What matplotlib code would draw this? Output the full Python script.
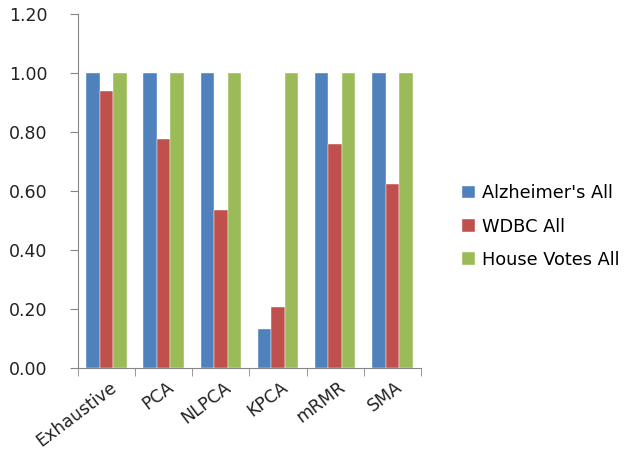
import numpy as np
import matplotlib.pyplot as plt

methods = ["Exhaustive", "PCA", "NLPCA", "KPCA", "mRMR", "SMA"]
alzheimers = [1.00, 1.00, 1.00, 0.134, 1.00, 1.00]
wdbc = [0.938, 0.776, 0.536, 0.209, 0.761, 0.623]
house_votes = [1.00, 1.00, 1.00, 1.00, 1.00, 1.00]

series = [("Alzheimer's All", alzheimers, "#4F81BD"),
          ("WDBC All", wdbc, "#C0504D"),
          ("House Votes All", house_votes, "#9BBB59")]

plt.rcParams['font.family'] = ['DejaVu Sans']

fig = plt.figure(figsize=(6.33, 4.54), dpi=100)
ax = fig.add_axes([0.123, 0.189, 0.542, 0.78])

x = np.arange(len(methods))
w = 0.236
for i, (name, vals, col) in enumerate(series):
    ax.bar(x + (i - 1) * w, vals, w, color=col, label=name,
           edgecolor='white', linewidth=0.3)

ax.set_xlim(-0.5, len(methods) - 0.5)
ax.set_ylim(0, 1.2)
yt = np.arange(0, 1.21, 0.2)
ax.set_yticks(yt)
ax.set_yticklabels([f"{v:.2f}" for v in yt], fontsize=12.5, color='#222222')

ax.set_xticks(x + 0.05)
ax.set_xticklabels(methods, rotation=37, ha='right', rotation_mode='anchor',
                   fontsize=12.5, color='#222222')
ax.tick_params(axis='x', length=0, pad=7)
ax.set_xticks(np.arange(-0.5, len(methods), 1), minor=True)
ax.tick_params(axis='x', which='minor', length=6, color='#868686')
ax.tick_params(axis='y', length=6, color='#868686', pad=16)

for s in ['top', 'right']:
    ax.spines[s].set_visible(False)
for s in ['left', 'bottom']:
    ax.spines[s].set_color('#868686')

ax.legend(loc='center left', bbox_to_anchor=(1.10, 0.40), frameon=False,
          fontsize=12.8, handlelength=0.7, handleheight=0.7, labelspacing=0.85,
          handletextpad=0.4, borderaxespad=0)

fig.savefig("out.png", dpi=100)
